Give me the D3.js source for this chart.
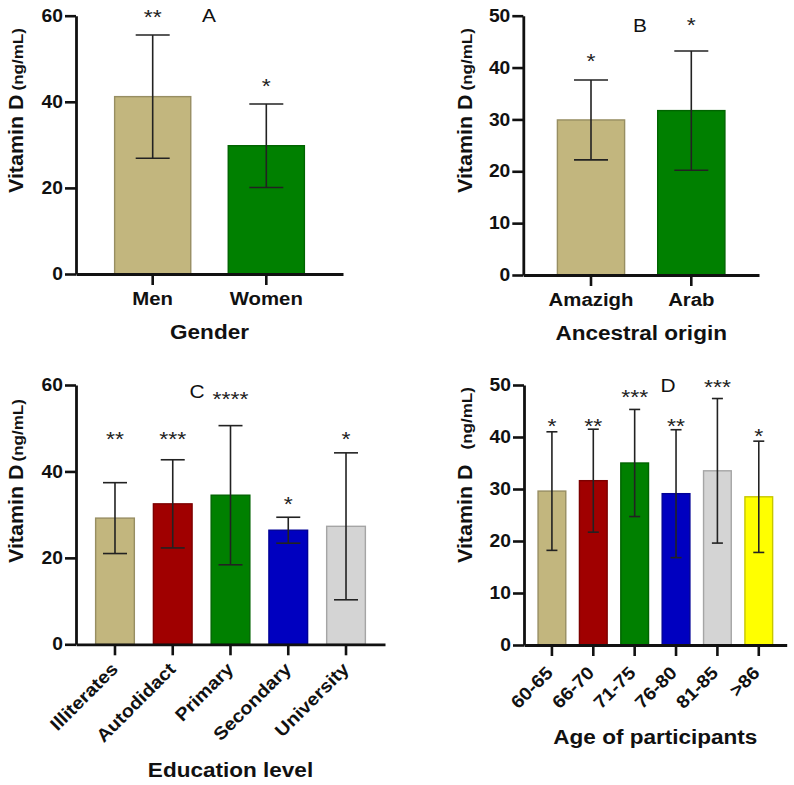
<!DOCTYPE html>
<html>
<head>
<meta charset="utf-8">
<script src="https://cdn.jsdelivr.net/npm/d3@7"></script>
<style>
  body { margin: 0; background: #fff; }
  svg { display: block; }
  text { font-family: Arial, "Liberation Sans", sans-serif; }
</style>
</head>
<body>
<div id="vis"></div>
<script>
// ==== DATA ====
// A: gender
const genderCats = ["Men", "Women"];
const genderMeans = [41.2, 29.8];
const genderSD = [14.3, 9.7];
const genderStars = ["**", "*"];
const genderStarLevel = [60.7, 44.7];

// B: ancestral origin
const originCats = ["Amazigh", "Arab"];
const originMeans = [29.9, 31.7];
const originSD = [7.7, 11.5];
const originStars = ["*", "*"];
const originStarLevel = [42, 49];

// C: education level
const eduCats = ["Illiterates", "Autodidact", "Primary", "Secondary", "University"];
const eduMeans = [29.2, 32.5, 34.5, 26.4, 27.3];
const eduSD = [8.2, 10.2, 16.1, 3.0, 17.0];
const eduStars = ["**", "***", "****", "*", "*"];
const eduStarLevel = [48.4, 48.4, 57.7, 33.4, 48.4];

// D: age groups
const ageCats = ["60-65", "66-70", "71-75", "76-80", "81-85", ">86"];
const ageMeans = [29.6, 31.6, 35.0, 29.1, 33.5, 28.5];
const ageSD = [11.4, 9.9, 10.3, 12.3, 13.9, 10.7];
const ageStars = ["*", "**", "***", "**", "***", "*"];
const ageStarLevel = [42.9, 42.9, 48.5, 42.9, 50.4, 41.0];

// colours
const tan = "#c2b67e", darkRed = "#a00000", green = "#008000",
      blue = "#0000c0", lightGray = "#d4d4d4", yellow = "#ffff00";

// ==== SETUP ====
const width = 794, height = 785;
const SX = 1.1; // the figure's font is a bit wider than Arial
const svg = d3.select("#vis").append("svg")
  .attr("width", width)
  .attr("height", height);

const panels = [
  { letter: "A", cats: genderCats, means: genderMeans, sd: genderSD, stars: genderStars,
    starLevel: genderStarLevel, colors: [tan, green], xTitle: "Gender",
    yMax: 60, yStep: 20, x0: 76, x1: 343, yTop: 15.7, yBot: 274, capW: 34,
    rotate: false, xTitleY: 339, yTitleX: 23, yTitleBottom: 193, unitGap: 4,
    letterX: 209, letterY: 22 },
  { letter: "B", cats: originCats, means: originMeans, sd: originSD, stars: originStars,
    starLevel: originStarLevel, colors: [tan, green], xTitle: "Ancestral origin",
    yMax: 50, yStep: 10, x0: 523.3, x1: 759, yTop: 15.7, yBot: 275, capW: 34,
    rotate: false, xTitleY: 340, yTitleX: 472, yTitleBottom: 193, unitGap: 4,
    letterX: 640, letterY: 31.5 },
  { letter: "C", cats: eduCats, means: eduMeans, sd: eduSD, stars: eduStars,
    starLevel: eduStarLevel, colors: [tan, darkRed, green, blue, lightGray], xTitle: "Education level",
    yMax: 60, yStep: 20, x0: 76, x1: 385, yTop: 385, yBot: 644.3, capW: 24,
    rotate: true, labDx: 4, labDy: 26, xTitleY: 777, yTitleX: 23, yTitleBottom: 563, unitGap: 3,
    letterX: 197, letterY: 398 },
  { letter: "D", cats: ageCats, means: ageMeans, sd: ageSD, stars: ageStars,
    starLevel: ageStarLevel, colors: [tan, darkRed, green, blue, lightGray, yellow], xTitle: "Age of participants",
    yMax: 50, yStep: 10, x0: 524, x1: 786.7, yTop: 385, yBot: 645, capW: 11,
    rotate: true, labDx: 2, labDy: 29, xTitleY: 744, yTitleX: 472, yTitleBottom: 563, unitGap: 15,
    letterX: 668, letterY: 392 }
];

// ==== DRAW ====
function drawPanel(p) {
  const g = svg.append("g");

  const x = d3.scaleBand()
    .domain(p.cats)
    .range([p.x0, p.x1])
    .paddingInner(0.33)
    .paddingOuter(0.34);

  const y = d3.scaleLinear()
    .domain([0, p.yMax])
    .range([p.yBot, p.yTop]);

  const rows = p.cats.map((c, i) => ({
    cat: c, mean: p.means[i], sd: p.sd[i], star: p.stars[i], starLevel: p.starLevel[i], color: p.colors[i]
  }));

  // bars
  g.selectAll("rect.bar")
    .data(rows)
    .enter()
    .append("rect")
    .attr("class", "bar")
    .attr("x", d => x(d.cat))
    .attr("y", d => y(d.mean))
    .attr("width", x.bandwidth())
    .attr("height", d => y(0) - y(d.mean))
    .attr("fill", d => d.color)
    .attr("stroke", d => d3.color(d.color).darker(0.7))
    .attr("stroke-width", 1.4);

  // error bars
  const cx = d => x(d.cat) + x.bandwidth() / 2;
  const err = g.selectAll("g.err")
    .data(rows)
    .enter()
    .append("g")
    .attr("class", "err")
    .attr("stroke", "#222")
    .attr("stroke-width", 1.6);
  err.append("line")
    .attr("x1", cx).attr("x2", cx)
    .attr("y1", d => y(d.mean + d.sd)).attr("y2", d => y(d.mean - d.sd));
  err.append("line")
    .attr("x1", d => cx(d) - p.capW / 2).attr("x2", d => cx(d) + p.capW / 2)
    .attr("y1", d => y(d.mean + d.sd)).attr("y2", d => y(d.mean + d.sd));
  err.append("line")
    .attr("x1", d => cx(d) - p.capW / 2).attr("x2", d => cx(d) + p.capW / 2)
    .attr("y1", d => y(d.mean - d.sd)).attr("y2", d => y(d.mean - d.sd));

  // significance stars
  g.selectAll("text.star")
    .data(rows)
    .enter()
    .append("text")
    .attr("class", "star")
    .attr("text-anchor", "middle")
    .attr("transform", d => `translate(${cx(d)},${y(d.starLevel) + 11}) scale(${SX},1)`)
    .style("font-size", "21px")
    .attr("fill", "#222")
    .text(d => d.star);

  // y axis
  const yAxis = g.append("g")
    .attr("transform", `translate(${p.x0},0)`)
    .call(d3.axisLeft(y)
      .tickValues(d3.range(0, p.yMax + 1, p.yStep))
      .tickSize(11)
      .tickSizeOuter(0)
      .tickPadding(2));

  // x axis
  const xAxis = g.append("g")
    .attr("transform", `translate(0,${p.yBot})`)
    .call(d3.axisBottom(x)
      .tickSize(11)
      .tickSizeOuter(0)
      .tickPadding(7));

  [yAxis, xAxis].forEach(a => {
    a.select(".domain").attr("stroke", "#111").attr("stroke-width", 2.8);
    a.selectAll(".tick line").attr("stroke", "#111").attr("stroke-width", 2.6);
    a.selectAll("text")
      .attr("fill", "#111")
      .style("font-weight", "bold")
      .style("font-family", 'Arial, "Liberation Sans", sans-serif');
  });

  yAxis.selectAll(".tick text")
    .attr("x", null)
    .attr("transform", `translate(-13,0) scale(${SX},1)`)
    .style("font-size", "17.5px");

  if (p.rotate) {
    xAxis.selectAll(".tick text")
      .attr("y", null)
      .attr("dy", null)
      .attr("text-anchor", "end")
      .attr("transform", `translate(${p.labDx},${p.labDy}) rotate(-45) scale(${SX},1)`)
      .style("font-size", "18px");
  } else {
    xAxis.selectAll(".tick text")
      .attr("transform", `scale(${SX},1)`)
      .style("font-size", "18.5px");
  }

  // axis titles
  g.append("text")
    .attr("text-anchor", "middle")
    .attr("transform", `translate(${(p.x0 + p.x1) / 2},${p.xTitleY}) scale(${SX},1)`)
    .style("font-size", "20.5px")
    .style("font-weight", "bold")
    .attr("fill", "#111")
    .text(p.xTitle);

  const yt = g.append("text")
    .attr("transform", `translate(${p.yTitleX},${p.yTitleBottom}) rotate(-90) scale(${SX},1)`)
    .style("font-weight", "bold")
    .attr("fill", "#111");
  yt.append("tspan").style("font-size", "19.5px").text("Vitamin D");
  yt.append("tspan").attr("dx", p.unitGap / SX).style("font-size", "15.5px").text("(ng/mL)");

  // panel letter
  g.append("text")
    .attr("text-anchor", "middle")
    .attr("transform", `translate(${p.letterX},${p.letterY}) scale(${SX},1)`)
    .style("font-size", "19px")
    .attr("fill", "#111")
    .text(p.letter);
}

panels.forEach(drawPanel);
</script>
</body>
</html>
